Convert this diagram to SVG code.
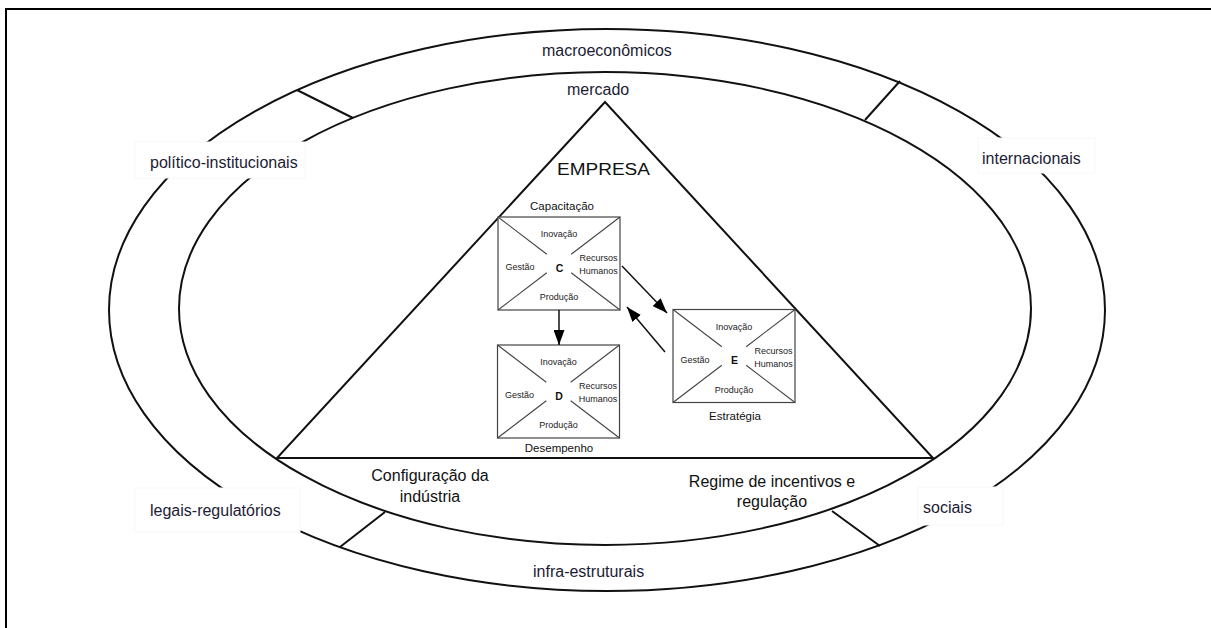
<svg xmlns="http://www.w3.org/2000/svg" xmlns:xlink="http://www.w3.org/1999/xlink" width="1211" height="628" viewBox="0 0 1211 628">
<style>
  .ln { fill: none; stroke: #111; stroke-width: 2; }
  .ring { font-family: "Liberation Sans", Arial, sans-serif; font-size: 16px; fill: #1c1c34; }
  .big { font-family: "Liberation Sans", Arial, sans-serif; font-size: 16px; fill: #111; }
  .sm { font-family: "Liberation Sans", Arial, sans-serif; font-size: 9px; fill: #222; text-anchor: middle; }
  .lbl { font-family: "Liberation Sans", Arial, sans-serif; font-size: 11.5px; fill: #111; text-anchor: middle; }
  .let { font-family: "Liberation Sans", Arial, sans-serif; font-size: 10.5px; font-weight: bold; fill: #111; text-anchor: middle; }
  .bx { fill: #fff; stroke: #444; stroke-width: 1.2; }
  .dg { stroke: #444; stroke-width: 1.1; }
  .wb { fill: #fff; stroke: #f7f7f7; stroke-width: 1; }
  .arr { stroke: #111; stroke-width: 1.5; fill: none; marker-end: url(#ah); }
</style>
<defs>
  <marker id="ah" viewBox="0 0 15 11" refX="15" refY="5.5" markerWidth="15" markerHeight="11" markerUnits="userSpaceOnUse" orient="auto">
    <path d="M0,0 L15,5.5 L0,11 z" fill="#000"/>
  </marker>
  <g id="cell">
    <rect class="bx" x="-61" y="-46.5" width="122" height="93"/>
    <line class="dg" x1="-61" y1="-46.5" x2="-12.2" y2="-9.3"/>
    <line class="dg" x1="61" y1="-46.5" x2="12.2" y2="-9.3"/>
    <line class="dg" x1="-61" y1="46.5" x2="-12.2" y2="9.3"/>
    <line class="dg" x1="61" y1="46.5" x2="12.2" y2="9.3"/>
    <text class="sm" x="0" y="-26.5">Inovação</text>
    <text class="sm" x="-39" y="6.5">Gestão</text>
    <text class="sm" x="39.5" y="-2.5">Recursos</text>
    <text class="sm" x="39.5" y="10.5">Humanos</text>
    <text class="sm" x="0" y="36.5">Produção</text>
  </g>
</defs>

<rect id="frame" x="6" y="9" width="1215" height="640" fill="none" stroke="#000" stroke-width="2"/>

<g id="rings">
  <ellipse class="ln" cx="607" cy="310" rx="498" ry="281"/>
  <ellipse class="ln" cx="605" cy="308.5" rx="426" ry="236.5"/>
  <line class="ln" x1="297" y1="90" x2="353" y2="118"/>
  <line class="ln" x1="900" y1="81" x2="865" y2="120"/>
  <line class="ln" x1="385" y1="512" x2="340" y2="547"/>
  <line class="ln" x1="832" y1="511" x2="880" y2="546"/>
</g>

<g id="triangle">
  <polygon class="ln" points="605,102 277,458 933,458"/>
</g>

<g id="label-macro"><text class="ring" x="542" y="56">macroeconômicos</text></g>
<g id="label-mercado"><text class="ring" x="567" y="95">mercado</text></g>
<g id="label-politico">
  <rect class="wb" x="135" y="142" width="170" height="36"/>
  <text class="ring" x="150" y="168">político-institucionais</text>
</g>
<g id="label-internacionais">
  <rect class="wb" x="978" y="138" width="117" height="35"/>
  <text class="ring" x="982" y="164">internacionais</text>
</g>
<g id="label-legais">
  <rect class="wb" x="135" y="488" width="165" height="44"/>
  <text class="ring" x="150" y="516">legais-regulatórios</text>
</g>
<g id="label-sociais">
  <rect class="wb" x="918" y="487" width="85" height="38"/>
  <text class="ring" x="923" y="513">sociais</text>
</g>
<g id="label-infra"><text class="ring" x="533" y="577">infra-estruturais</text></g>

<g id="empresa">
  <text class="big" x="557" y="175" font-size="23" textLength="93" lengthAdjust="spacingAndGlyphs">EMPRESA</text>
</g>

<g id="configuracao">
  <text class="big" x="430" y="481" text-anchor="middle">Configuração da</text>
  <text class="big" x="430" y="502" text-anchor="middle">indústria</text>
</g>
<g id="regime">
  <text class="big" x="772" y="487" text-anchor="middle">Regime de incentivos e</text>
  <text class="big" x="772" y="507" text-anchor="middle">regulação</text>
</g>

<g id="node-C">
  <text class="lbl" x="562" y="210">Capacitação</text>
  <use xlink:href="#cell" x="559" y="263.5"/>
  <text class="let" x="559.5" y="271.5">C</text>
</g>
<g id="node-D">
  <use xlink:href="#cell" x="558.5" y="391.5"/>
  <text class="let" x="559" y="399.5">D</text>
  <text class="lbl" x="559" y="452">Desempenho</text>
</g>
<g id="node-E">
  <use xlink:href="#cell" x="734" y="356"/>
  <text class="let" x="734.5" y="364">E</text>
  <text class="lbl" x="735" y="420">Estratégia</text>
</g>

<g id="connectors">
  <line class="arr" x1="559" y1="310" x2="559" y2="345"/>
  <line class="arr" x1="622" y1="266" x2="667" y2="313"/>
  <line class="arr" x1="665" y1="352" x2="627" y2="307"/>
</g>
</svg>
